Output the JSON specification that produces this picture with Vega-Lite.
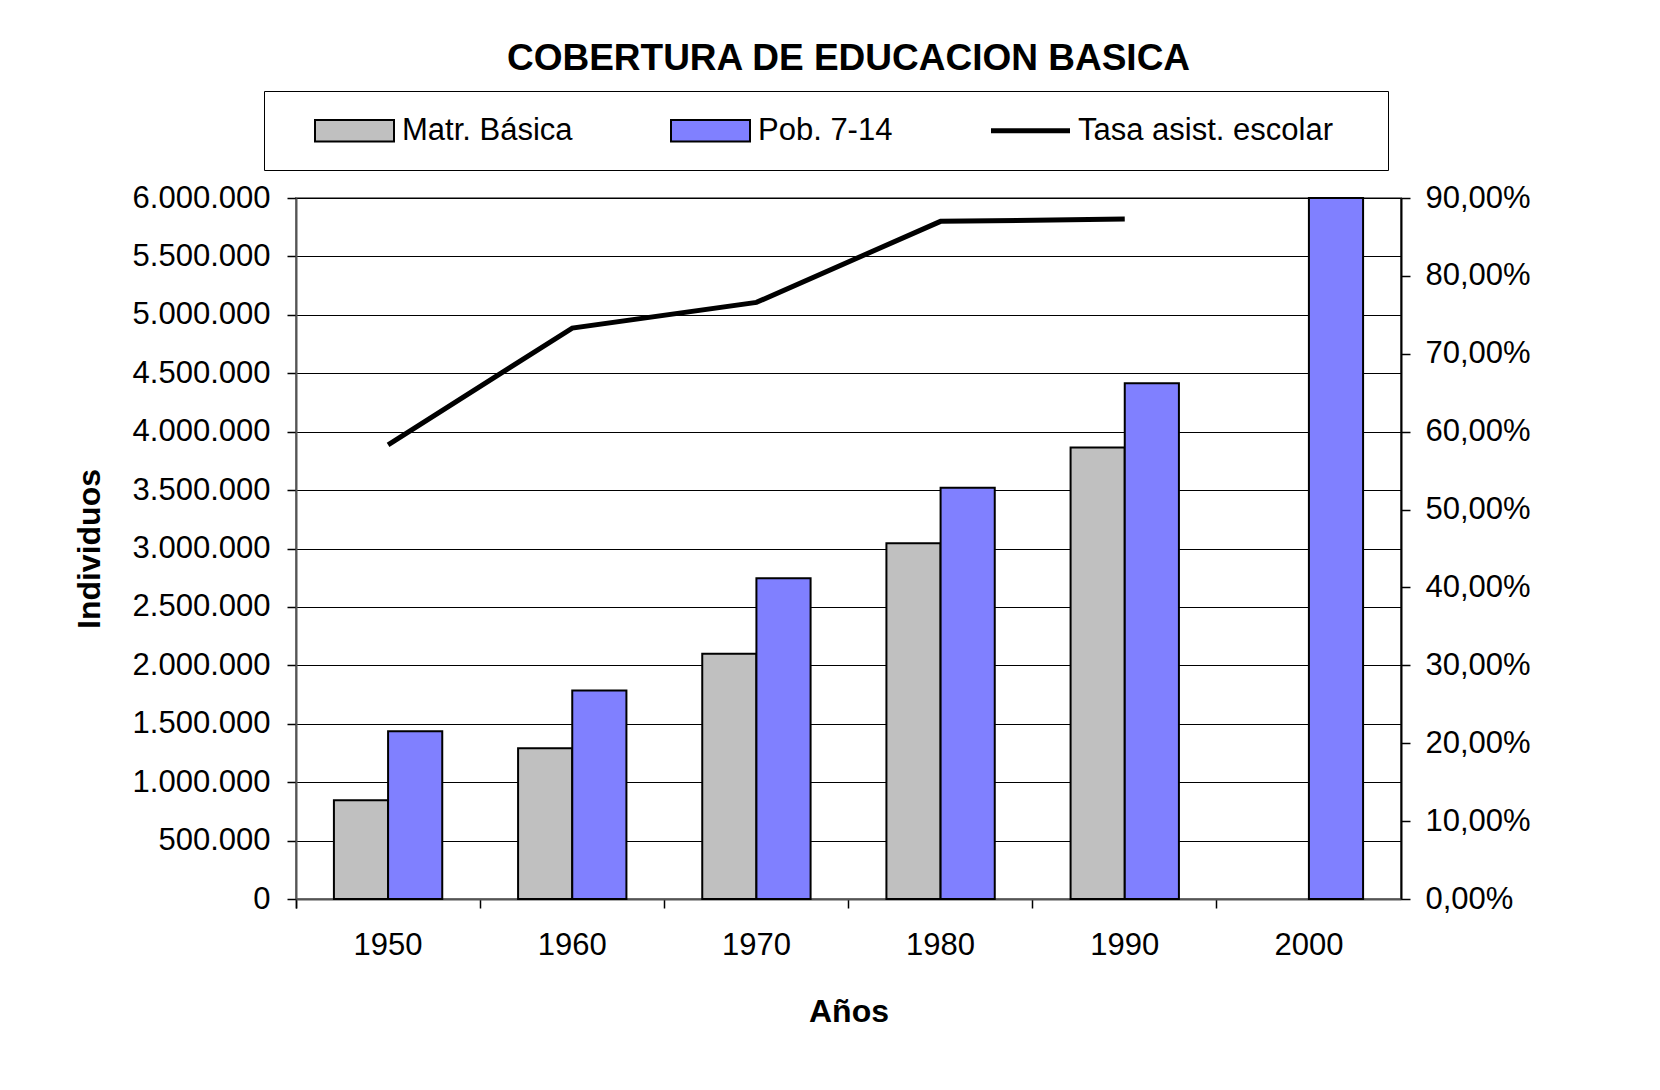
{
  "$schema": "https://vega.github.io/schema/vega-lite/v6.json",
  "width": 1105,
  "height": 701,
  "autosize": {"type": "none"},
  "padding": {"left": 296, "top": 198, "right": 259, "bottom": 191},
  "background": "white",
  "config": {
    "locale": {"number": {"decimal": ",", "thousands": ".", "grouping": [3], "currency": ["", ""]}},
    "font": "Liberation Sans",
    "view": {"stroke": "#808080", "strokeWidth": 2},
    "axis": {
      "labelFont": "Liberation Sans",
      "labelFontSize": 31,
      "labelColor": "black",
      "titleFont": "Liberation Sans",
      "titleFontSize": 32,
      "titleFontWeight": "bold",
      "titleColor": "black",
      "tickColor": "black",
      "tickSize": 9,
      "tickWidth": 1.5,
      "domainColor": "#555555",
      "domainWidth": 2
    }
  },
  "title": {
    "text": "COBERTURA DE EDUCACION BASICA",
    "font": "Liberation Sans",
    "fontSize": 37,
    "fontWeight": "bold",
    "color": "black",
    "anchor": "middle",
    "offset": 13
  },
  "datasets": {
    "barras": [
      {"year": "1950", "serie": "Matr. Básica", "valor": 845000},
      {"year": "1950", "serie": "Pob. 7-14", "valor": 1435000},
      {"year": "1960", "serie": "Matr. Básica", "valor": 1290000},
      {"year": "1960", "serie": "Pob. 7-14", "valor": 1785000},
      {"year": "1970", "serie": "Matr. Básica", "valor": 2100000},
      {"year": "1970", "serie": "Pob. 7-14", "valor": 2745000},
      {"year": "1980", "serie": "Matr. Básica", "valor": 3045000},
      {"year": "1980", "serie": "Pob. 7-14", "valor": 3520000},
      {"year": "1990", "serie": "Matr. Básica", "valor": 3865000},
      {"year": "1990", "serie": "Pob. 7-14", "valor": 4415000},
      {"year": "2000", "serie": "Pob. 7-14", "valor": 6000000}
    ],
    "tasa": [
      {"year": "1950", "tasa": 0.583},
      {"year": "1960", "tasa": 0.733},
      {"year": "1970", "tasa": 0.766},
      {"year": "1980", "tasa": 0.870},
      {"year": "1990", "tasa": 0.873}
    ]
  },
  "layer": [
    {
      "data": {"name": "barras"},
      "mark": {"type": "bar", "stroke": "black", "strokeWidth": 2},
      "encoding": {
        "x": {
          "field": "year",
          "type": "nominal",
          "sort": ["1950", "1960", "1970", "1980", "1990", "2000"],
          "scale": {"domain": ["1950", "1960", "1970", "1980", "1990", "2000"], "paddingInner": 0, "paddingOuter": 0},
          "axis": {
            "title": "Años",
            "labelAngle": 0,
            "bandPosition": 0,
            "tickExtra": true,
            "labelPadding": 22,
            "titlePadding": 36,
            "grid": false
          }
        },
        "xOffset": {
          "field": "serie",
          "type": "nominal",
          "scale": {"domain": ["Matr. Básica", "Pob. 7-14"], "paddingInner": 0, "paddingOuter": 0.7}
        },
        "y": {
          "field": "valor",
          "type": "quantitative",
          "scale": {"domain": [0, 6000000], "nice": false},
          "axis": {
            "title": "Individuos",
            "values": [0, 500000, 1000000, 1500000, 2000000, 2500000, 3000000, 3500000, 4000000, 4500000, 5000000, 5500000, 6000000],
            "format": ",.0f",
            "grid": true,
            "gridColor": "black",
            "gridWidth": 1,
            "labelPadding": 17,
            "titlePadding": 26
          }
        },
        "color": {
          "field": "serie",
          "type": "nominal",
          "scale": {
            "domain": ["Matr. Básica", "Pob. 7-14", "Tasa asist. escolar"],
            "range": ["#C0C0C0", "#8080FF", "#000000"]
          },
          "legend": {
            "orient": "none",
            "legendX": -32,
            "legendY": -107,
            "direction": "horizontal",
            "title": ".",
            "titleOrient": "right",
            "titleOpacity": 0,
            "titleFontSize": 10,
            "titlePadding": 28,
            "strokeColor": "black",
            "padding": 24,
            "columnPadding": 71,
            "labelFont": "Liberation Sans",
            "labelFontSize": 31,
            "labelColor": "black",
            "labelOffset": 32,
            "symbolOffset": 51,
            "labelLimit": 0,
            "symbolSize": 6241,
            "symbolType": "M-1,-0.27H1V0.27H-1Z",
            "symbolStrokeColor": "black",
            "symbolStrokeWidth": 2,
            "encode": {
              "symbols": {
                "update": {
                  "shape": {"signal": "datum.value === 'Tasa asist. escolar' ? 'M-1,-0.065H1V0.065H-1Z' : 'M-1,-0.27H1V0.27H-1Z'"},
                  "fill": {"scale": "color", "field": "value"},
                  "fillOpacity": {"value": 1},
                  "stroke": {"value": "black"},
                  "strokeOpacity": {"value": 1},
                  "strokeWidth": {"signal": "datum.value === 'Tasa asist. escolar' ? 0 : 2"},
                  "opacity": {"value": 1}
                }
              }
            }
          }
        }
      }
    },
    {
      "data": {"name": "tasa"},
      "mark": {"type": "line", "strokeWidth": 5, "color": "black"},
      "encoding": {
        "x": {"field": "year", "type": "nominal", "sort": ["1950", "1960", "1970", "1980", "1990", "2000"]},
        "y": {
          "field": "tasa",
          "type": "quantitative",
          "scale": {"domain": [0, 0.9], "nice": false},
          "axis": {
            "orient": "right",
            "title": null,
            "values": [0, 0.1, 0.2, 0.3, 0.4, 0.5, 0.6, 0.7, 0.8, 0.9],
            "format": ".2%",
            "grid": false,
            "labelPadding": 15,
            "domainColor": "black"
          }
        }
      }
    }
  ],
  "resolve": {"scale": {"y": "independent"}}
}
